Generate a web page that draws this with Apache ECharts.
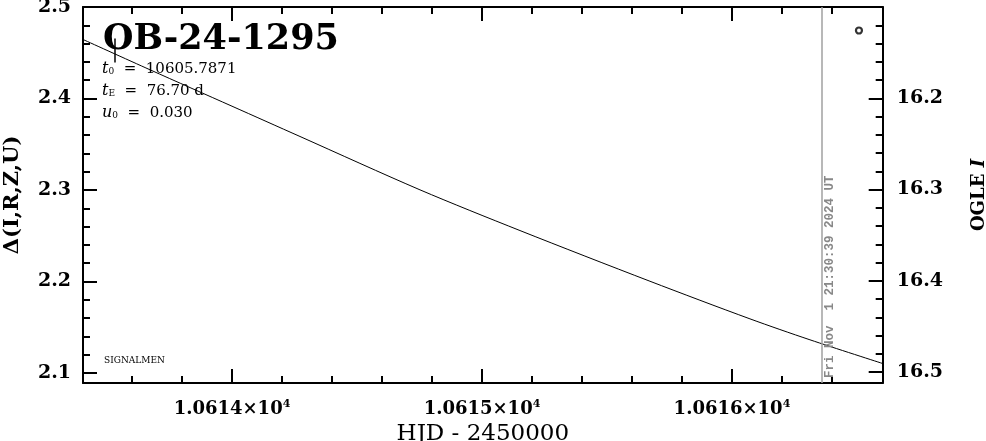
<!DOCTYPE html>
<html>
<head>
<meta charset="utf-8">
<script src="https://cdn.jsdelivr.net/npm/echarts@6/dist/echarts.min.js"></script>
<style>
html,body{margin:0;padding:0;background:#fff;}
#chart{width:986px;height:441px;}
</style>
</head>
<body>
<div id="chart"></div>
<script>
// ---- data ----
const curveX = [10613.404, 10613.672, 10614.0, 10614.272, 10614.752, 10615.152, 10615.672, 10616.072, 10616.312, 10616.603];
const curveY = [2.4645, 2.4314, 2.3916, 2.3585, 2.3002, 2.2557, 2.2003, 2.1592, 2.1363, 2.1104];
const pointX = [10616.508];
const pointY = [2.4743];
const errX = [10613.532];
const errLow = [2.4393];
const errHigh = [2.4656];
const nowHJD = 10616.362;
const nowLabel = 'Fri Nov  1 21:30:39 2024 UT';
const xMajorTicks = [10614, 10615, 10616];
const xMinorTicks = [10613.6, 10613.8, 10614.2, 10614.4, 10614.6, 10614.8, 10615.2, 10615.4, 10615.6, 10615.8, 10616.2, 10616.4];
const yLeftMajor = [2.1, 2.2, 2.3, 2.4, 2.5];
const yLeftMinor = [2.12, 2.14, 2.16, 2.18, 2.22, 2.24, 2.26, 2.28, 2.32, 2.34, 2.36, 2.38, 2.42, 2.44, 2.46, 2.48];
const yRightMajor = [16.2, 16.3, 16.4, 16.5];
const yRightMinor = [16.12, 16.14, 16.16, 16.18, 16.22, 16.24, 16.26, 16.28, 16.32, 16.34, 16.36, 16.38, 16.42, 16.44, 16.46, 16.48];
const xRange = [10613.404, 10616.603];
const yLeftRange = [2.0891, 2.5];
const yRightRange = [16.1, 16.512];
const titleText = 'OB-24-1295';
const params = [['t', '0', '10605.7871'], ['t', 'E', '76.70 d'], ['u', '0', '0.030']];

// ---- chart ----
const SERIF = '"DejaVu Serif", "Liberation Serif", serif';
const chart = echarts.init(document.getElementById('chart'), null, {renderer: 'canvas'});

const lineStyleFrame = {color: '#000', width: 2};
function majorAxisX(pos, labels) {
  return {
    type: 'value', position: pos, min: xRange[0], max: xRange[1],
    axisLine: {show: true, onZero: false, lineStyle: lineStyleFrame},
    axisTick: {show: true, inside: true, length: 14, lineStyle: {color: '#000', width: 2}, customValues: xMajorTicks},
    axisLabel: labels ? {
      show: true, margin: 16, customValues: xMajorTicks,
      formatter: v => '{m|' + (v / 1e4).toFixed(4) + '×10}{e|4}',
      rich: {
        m: {fontFamily: SERIF, fontWeight: 'bold', fontSize: 18, color: '#000'},
        e: {fontFamily: SERIF, fontWeight: 'bold', fontSize: 11, color: '#000', padding: [0, 0, 9, 0]}
      }
    } : {show: false},
    splitLine: {show: false},
    name: labels ? 'HJD - 2450000' : '', nameLocation: 'middle', nameGap: 34,
    nameTextStyle: {fontFamily: SERIF, fontSize: 23, color: '#000'}
  };
}
function minorAxisX(pos) {
  return {
    type: 'value', position: pos, min: xRange[0], max: xRange[1],
    axisLine: {show: false, onZero: false},
    axisTick: {show: true, inside: true, length: 7, lineStyle: {color: '#000', width: 2}, customValues: xMinorTicks},
    axisLabel: {show: false}, splitLine: {show: false}
  };
}
function axisY(pos, range, inverse, ticks, len, labels, name) {
  return {
    type: 'value', position: pos, min: range[0], max: range[1], inverse: inverse,
    axisLine: {show: len > 10, onZero: false, lineStyle: lineStyleFrame},
    axisTick: {show: true, inside: true, length: len, lineStyle: {color: '#000', width: 2}, customValues: ticks},
    axisLabel: labels ? {
      show: true, margin: pos === 'left' ? 12 : 14, customValues: ticks,
      fontFamily: SERIF, fontWeight: 'bold', fontSize: 19, color: '#000',
      formatter: v => v.toFixed(1)
    } : {show: false},
    splitLine: {show: false},
    name: name || '', nameLocation: 'middle', nameRotate: 90,
    nameGap: pos === 'left' ? 60 : 88,
    nameTextStyle: {
      fontFamily: SERIF, fontWeight: 'bold', fontSize: 21, color: '#000',
      rich: {
        a: {fontFamily: SERIF, fontWeight: 'bold', fontSize: 18, color: '#000'},
        b: {fontFamily: SERIF, fontWeight: 'bold', fontStyle: 'italic', fontSize: 18, color: '#000'}
      }
    }
  };
}

const curveData = curveX.map((x, i) => [x, curveY[i]]);
const pointData = pointX.map((x, i) => [x, pointY[i]]);
const errData = errX.map((x, i) => [x, errLow[i], errHigh[i]]);

const option = {
  backgroundColor: '#fff',
  animation: false,
  grid: {left: 83, right: 103.3, top: 7, bottom: 58, containLabel: false, outerBoundsMode: 'none'},
  xAxis: [majorAxisX('bottom', true), minorAxisX('bottom'), majorAxisX('top', false), minorAxisX('top')],
  yAxis: [
    axisY('left', yLeftRange, false, yLeftMajor, 14, true, 'Δ(I,R,Z,U)'),
    axisY('left', yLeftRange, false, yLeftMinor, 7, false),
    axisY('right', yRightRange, true, yRightMajor, 14, true, '{a|OGLE }{b|I}'),
    axisY('right', yRightRange, true, yRightMinor, 7, false)
  ],
  series: [
    {
      type: 'line', xAxisIndex: 0, yAxisIndex: 0, data: curveData, smooth: 0.3,
      showSymbol: false, symbol: 'none', clip: true,
      lineStyle: {color: '#000', width: 1},
      markLine: {
        silent: true, symbol: ['none', 'none'], animation: false,
        lineStyle: {color: '#a0a0a0', width: 1.5, type: 'solid'},
        label: {show: false},
        data: [{xAxis: nowHJD}]
      },
      z: 3
    },
    {
      type: 'scatter', xAxisIndex: 0, yAxisIndex: 0, data: pointData,
      symbol: 'circle', symbolSize: 6,
      itemStyle: {color: '#fff', borderColor: '#000', borderWidth: 2.2},
      z: 5
    },
    {
      type: 'custom', xAxisIndex: 0, yAxisIndex: 0, data: errData,
      renderItem: function (params, api) {
        const lo = api.coord([api.value(0), api.value(1)]);
        const hi = api.coord([api.value(0), api.value(2)]);
        return {type: 'line', shape: {x1: lo[0], y1: lo[1], x2: hi[0], y2: hi[1]},
          style: {stroke: '#000', lineWidth: 1.5}};
      },
      z: 4
    }
  ],
  graphic: []
};
chart.setOption(option);

// annotations
const g = [];
g.push({type: 'text', left: 103, top: 22, z: 10,
  style: {text: titleText, fontFamily: SERIF, fontWeight: 'bold', fontSize: 35, fill: '#000'}});
params.forEach((p, i) => {
  g.push({type: 'text', left: 102, top: 61 + i * 22, z: 10,
    style: {
      text: '{i|' + p[0] + '}{s|' + p[1] + '}{n|  =  ' + p[2] + '}',
      rich: {
        i: {fontFamily: SERIF, fontStyle: 'italic', fontSize: 16, fill: '#000', color: '#000'},
        s: {fontFamily: SERIF, fontSize: 9, fill: '#000', color: '#000', padding: [6, 0, 0, 0]},
        n: {fontFamily: SERIF, fontSize: 15, fill: '#000', color: '#000'}
      }
    }});
});
g.push({type: 'text', left: 104, top: 356, z: 10,
  style: {text: 'SIGNALMEN', fontFamily: SERIF, fontSize: 9, fill: '#000'}});
const nowPx = chart.convertToPixel({xAxisIndex: 0, yAxisIndex: 0}, [nowHJD, yLeftRange[0]]);
g.push({type: 'text', x: nowPx[0] + 7, y: nowPx[1] - 5, rotation: Math.PI / 2, z: 10,
  style: {text: nowLabel, fontFamily: '"Liberation Mono", "DejaVu Sans Mono", monospace', fontWeight: 'bold',
    fontSize: 12.5, fill: '#888', align: 'left', verticalAlign: 'middle'}});
chart.setOption({graphic: g});
</script>
</body>
</html>
